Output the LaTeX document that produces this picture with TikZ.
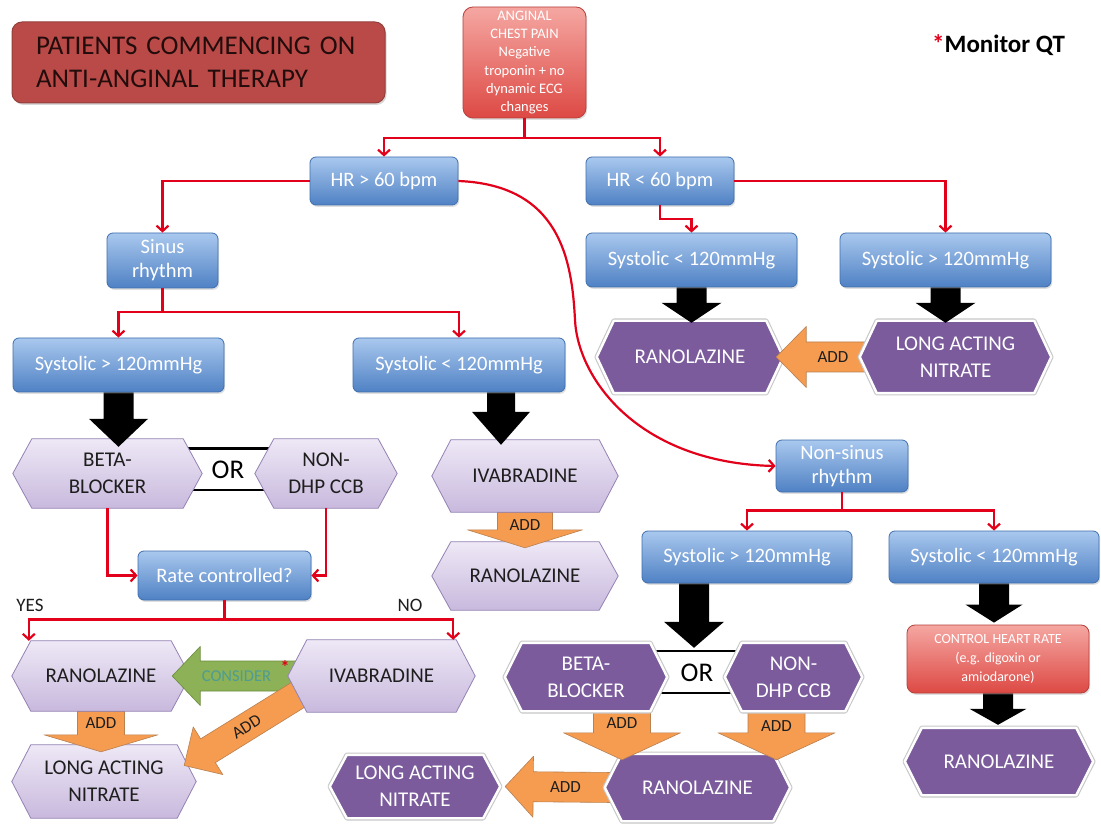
\documentclass[tikz,border=0pt]{standalone}
\usepackage{fontspec}
\setmainfont{Carlito}
\usetikzlibrary{calc,arrows.meta,shadows}
\pgfdeclarelayer{back}
\pgfsetlayers{back,main}

\definecolor{connred}{HTML}{E2001A}
\definecolor{blueT}{HTML}{A9C8EE}
\definecolor{blueB}{HTML}{4F81C4}
\definecolor{blueD}{HTML}{3F6FAE}
\definecolor{redT}{HTML}{F5A7A2}
\definecolor{redB}{HTML}{DD4944}
\definecolor{redD}{HTML}{B8403C}
\definecolor{titleFill}{HTML}{BA4A47}
\definecolor{titleDraw}{HTML}{93403D}
\definecolor{titleInk}{HTML}{220C0C}
\definecolor{lilacT}{HTML}{EEE8F6}
\definecolor{lilacB}{HTML}{C8B9DD}
\definecolor{lilacD}{HTML}{9482B4}
\definecolor{plum}{HTML}{7B5B9C}
\definecolor{orangeF}{HTML}{F59C50}
\definecolor{orangeD}{HTML}{B98050}
\definecolor{greenF}{HTML}{8CB156}
\definecolor{greenD}{HTML}{6B8C3E}
\definecolor{considerInk}{HTML}{4E9C93}
\definecolor{inkDark}{HTML}{1E1E1E}

\tikzset{
  bluebox/.style={rounded corners=6pt, top color=blueT, bottom color=blueB, draw=blueD,
    line width=0.8pt, text=white, align=center, inner sep=1pt,
    font=\fontsize{20.5}{24}\selectfont,
    drop shadow={opacity=0.25, shadow xshift=1.2pt, shadow yshift=-1.8pt}},
  redbox/.style={rounded corners=10pt, top color=redT, bottom color=redB, draw=redD,
    line width=0.8pt, text=white, align=center, inner sep=1pt,
    drop shadow={opacity=0.25, shadow xshift=1.2pt, shadow yshift=-1.8pt}},
  titlebox/.style={rounded corners=10pt, fill=titleFill, draw=titleDraw, line width=1pt,
    text=titleInk, align=left, inner xsep=24pt, inner ysep=2pt,
    font=\fontsize{27}{33}\selectfont,
    drop shadow={opacity=0.3, shadow xshift=1.5pt, shadow yshift=-2pt}},
  hexlabel/.style={align=center, inner sep=0pt, font=\fontsize{21}{27}\selectfont},
  lighthex/.style={hexlabel, text=inkDark},
  darkhex/.style={hexlabel, text=white},
  lightfill/.style={top color=lilacT, bottom color=lilacB, draw=lilacD, line width=0.8pt, line join=round},
  darkfill/.style={fill=plum, draw=white, line width=2.4pt, line join=round,
    preaction={draw=black!22, line width=4.6pt, line join=round}},
  conn/.style={draw=connred, line width=2.2pt, -{Straight Barb[length=5.5pt, width=12pt]}},
  orline/.style={draw=black, line width=2.2pt},
  blackarrow/.style={fill=black},
  orangearrow/.style={fill=orangeF, draw=orangeD, line width=0.6pt, line join=round},
  greenarrow/.style={fill=greenF, draw=greenD, line width=0.6pt, line join=round},
  addtext/.style={font=\fontsize{17}{17}\selectfont, text=inkDark, inner sep=0pt},
  considertext/.style={font=\fontsize{16.5}{16.5}\selectfont, text=considerInk, inner sep=0pt},
  ortext/.style={font=\fontsize{27}{27}\selectfont, text=black, inner sep=0pt},
  plaintext/.style={font=\fontsize{19}{19}\selectfont, text=inkDark, inner sep=0pt},
}

% hexagonal backdrop behind a named node: node, style, point depth
\newcommand\hexbg[3]{%
  \path[#2] (#1.west) -- ($(#1.north west)+(#3,0)$) -- ($(#1.north east)+(-#3,0)$) -- (#1.east)
    -- ($(#1.south east)+(-#3,0)$) -- ($(#1.south west)+(#3,0)$) -- cycle;}

% block arrow: style, tail, tip, shaft half width, head half width, head length
\newcommand\barrow[6]{%
  \path let \p1=(#2), \p2=(#3), \n1={veclen(\x2-\x1,\y2-\y1)} in
    coordinate (baq) at ($(\p1)!{\n1-#6pt}!(\p2)$);
  \path[#1] ($(#2)!#4pt!90:(#3)$) -- ($(baq)!#4pt!90:(#3)$) -- ($(baq)!#5pt!90:(#3)$) -- (#3)
    -- ($(baq)!#5pt!-90:(#3)$) -- ($(baq)!#4pt!-90:(#3)$) -- ($(#2)!#4pt!-90:(#3)$) -- cycle;}

\begin{document}
\begin{tikzpicture}[x=1pt, y=-1pt]
\useasboundingbox (0,0) rectangle (1101,826);

% ---------- title, start box, footnote ----------
\node[titlebox, text width=325pt, minimum height=81pt] (title) at (198.5,62.5)
  {PATIENTS COMMENCING ON\\ANTI-ANGINAL THERAPY};
\node[redbox, minimum width=123pt, minimum height=111pt, font=\fontsize{14.5}{18.3}\selectfont]
  (top) at (524.5,62.5) {ANGINAL\\CHEST PAIN\\Negative\\troponin + no\\dynamic ECG\\changes};
\node[font=\bfseries\fontsize{25}{25}\selectfont, inner sep=0pt, anchor=west] (qt) at (932,45)
  {\textcolor{connred}{*}Monitor QT};

% ---------- decision boxes ----------
\node[bluebox, minimum width=148pt, minimum height=48pt] (hr1) at (384,181) {HR > 60 bpm};
\node[bluebox, minimum width=148pt, minimum height=48pt] (hr2) at (660,181) {HR < 60 bpm};
\node[bluebox, minimum width=111pt, minimum height=55pt] (sinus) at (162.5,260.5) {Sinus\\rhythm};
\node[bluebox, minimum width=211pt, minimum height=54pt] (sysU1) at (691.5,260) {Systolic < 120mmHg};
\node[bluebox, minimum width=211pt, minimum height=54pt] (sysU2) at (945.5,260) {Systolic > 120mmHg};
\node[bluebox, minimum width=211pt, minimum height=54pt] (sysL1) at (118.5,365) {Systolic > 120mmHg};
\node[bluebox, minimum width=212pt, minimum height=54pt] (sysL2) at (459,365) {Systolic < 120mmHg};
\node[bluebox, minimum width=132pt, minimum height=52pt] (nonsinus) at (842,466) {Non-sinus\\rhythm};
\node[bluebox, minimum width=173pt, minimum height=49pt] (rate) at (224.5,575.5) {Rate controlled?};
\node[bluebox, minimum width=210pt, minimum height=52pt] (sysR1) at (747,557) {Systolic > 120mmHg};
\node[bluebox, minimum width=210pt, minimum height=52pt] (sysR2) at (994,557) {Systolic < 120mmHg};
\node[redbox, rounded corners=8pt, minimum width=182pt, minimum height=68pt,
  font=\fontsize{14}{19}\selectfont] (ctrl) at (998,659) {CONTROL HEART RATE\\(e.g. digoxin or\\amiodarone)};

% ---------- drug labels (hexagons drawn on the back layer) ----------
\node[lighthex, minimum width=189pt, minimum height=69pt] (beta) at (107.5,473.5) {BETA-\\BLOCKER};
\node[lighthex, minimum width=142pt, minimum height=69pt] (nondhp) at (326,473.5) {NON-\\DHP CCB};
\node[lighthex, minimum width=186pt, minimum height=72pt] (ivaM) at (525,476) {IVABRADINE};
\node[lighthex, minimum width=186pt, minimum height=68pt] (ranoM) at (525,576) {RANOLAZINE};
\node[lighthex, minimum width=178pt, minimum height=70pt] (ranoL) at (101,676) {RANOLAZINE};
\node[lighthex, minimum width=187pt, minimum height=72pt] (ivaL) at (381.5,676) {IVABRADINE};
\node[lighthex, minimum width=184pt, minimum height=73pt] (nitrL) at (104,781.5) {LONG ACTING\\NITRATE};
\node[darkhex, minimum width=186pt, minimum height=72pt] (ranoU) at (690,357) {RANOLAZINE};
\node[darkhex, minimum width=191pt, minimum height=72pt] (nitrU) at (955.5,357) {LONG ACTING\\NITRATE};
\node[darkhex, minimum width=162pt, minimum height=68pt] (betaR) at (586,677) {BETA-\\BLOCKER};
\node[darkhex, minimum width=137pt, minimum height=68pt] (nondhpR) at (793.5,677) {NON-\\DHP CCB};
\node[darkhex, minimum width=185pt, minimum height=67pt] (ranoR2) at (697.5,787.5) {RANOLAZINE};
\node[darkhex, minimum width=170pt, minimum height=63pt] (nitrR) at (415,786.5) {LONG ACTING\\NITRATE};
\node[darkhex, minimum width=188pt, minimum height=67pt] (ranoRR) at (999,761.5) {RANOLAZINE};

\node[ortext] (orL) at (228,470) {OR};
\node[ortext] (orR) at (697,673) {OR};
\node[plaintext] (yes) at (30,605) {YES};
\node[plaintext] (no) at (410,605) {NO};

% ---------- red decision connectors ----------
\coordinate (yesend) at ($(ranoL.north west)+(17,0)$);
\coordinate (noend) at ($(ivaL.north east)+(-22,0)$);
\draw[conn] (top.south) -- ++(0,20) -| (hr1.north);
\draw[conn] (top.south) -- ++(0,20) -| (hr2.north);
\draw[conn] (hr1.west) -| (sinus.north);
\draw[conn] (hr2.south) -- ++(0,14) -| (sysU1.north);
\draw[conn] (hr2.east) -| (sysU2.north);
\draw[conn] (hr1.east) .. controls (560,185) and (572,260) .. (575,320)
  .. controls (578,380) and (640,463) .. (nonsinus.west);
\draw[conn] (sinus.south) -- ++(0,24) -| (sysL1.north);
\draw[conn] (sinus.south) -- ++(0,24) -| (sysL2.north);
\draw[conn] (nonsinus.south) -- ++(0,18) -| (sysR1.north);
\draw[conn] (nonsinus.south) -- ++(0,18) -| (sysR2.north);
\draw[conn] (beta.south) |- (rate.west);
\draw[conn] (nondhp.south) |- (rate.east);
\draw[conn] (rate.south) -- ++(0,19) -| (yesend);
\draw[conn] (rate.south) -- ++(0,19) -| (noend);

% ---------- block arrow end points ----------
\coordinate (kU1a) at (sysU1.south);  \coordinate (kU1b) at ($(sysU1.south |- ranoU.north)+(0,2)$);
\coordinate (kU2a) at (sysU2.south);  \coordinate (kU2b) at ($(sysU2.south |- nitrU.north)+(0,2)$);
\coordinate (kL1a) at (sysL1.south);  \coordinate (kL1b) at ($(sysL1.south |- beta.north)+(0,8)$);
\coordinate (kL2a) at ($(sysL2.south)+(42,0)$);  \coordinate (kL2b) at ($(kL2a |- ivaM.north)+(0,5)$);
\coordinate (kR1a) at ($(sysR1.south)+(-53,0)$); \coordinate (kR1b) at ($(kR1a |- betaR.north)+(0,5)$);
\coordinate (kR2a) at (sysR2.south);  \coordinate (kR2b) at ($(sysR2.south |- ctrl.north)+(0,-2)$);
\coordinate (kR3a) at (ctrl.south);   \coordinate (kR3b) at ($(ctrl.south |- ranoRR.north)+(0,-3)$);
\coordinate (oUa) at ($(nitrU.west)+(8,0)$);   \coordinate (oUb) at ($(ranoU.east)+(-7,0)$);
\coordinate (oMa) at (ivaM.south);             \coordinate (oMb) at ($(ranoM.north)+(0,6)$);
\coordinate (oLa) at (ranoL.south);            \coordinate (oLb) at ($(ranoL.south |- nitrL.north)+(0,7)$);
\coordinate (oDa) at ($(ivaL.south west)+(21,-24)$); \coordinate (oDb) at ($(nitrL.east)+(-12,-16)$);
\coordinate (oR1a) at ($(betaR.south)+(36,0)$);    \coordinate (oR1b) at ($(oR1a |- ranoR2.north)+(0,6)$);
\coordinate (oR2a) at ($(nondhpR.south)+(-17,0)$); \coordinate (oR2b) at ($(oR2a |- ranoR2.north)+(0,6)$);
\coordinate (oBa) at ($(ranoR2.west)+(8,0)$);  \coordinate (oBb) at ($(nitrR.east)+(5,0)$);
\coordinate (gCa) at ($(ivaL.west)+(8,0)$);    \coordinate (gCb) at ($(ranoL.east)+(-18,0)$);

% ---------- shapes behind the labels ----------
\begin{pgfonlayer}{back}
  \fill[white] (0,0) rectangle (1101,826);
  % OR pair (sinus rhythm)
  \draw[orline] ($(beta.east)+(-30,-25)$) -- ($(nondhp.west)+(30,-25)$);
  \draw[orline] ($(beta.east)+(-30,16.5)$) -- ($(nondhp.west)+(30,16.5)$);
  \hexbg{beta}{lightfill}{19}
  \hexbg{nondhp}{lightfill}{19}
  % ivabradine then ranolazine
  \hexbg{ranoM}{lightfill}{19}
  \barrow{orangearrow}{oMa}{oMb}{27.5}{57.5}{18}
  \hexbg{ivaM}{lightfill}{19}
  % bradycardic branch
  \hexbg{ranoU}{darkfill}{17}
  \barrow{orangearrow}{oUa}{oUb}{15}{30.5}{30}
  \hexbg{nitrU}{darkfill}{17}
  % rate controlled outcomes
  \hexbg{nitrL}{lightfill}{19}
  \barrow{orangearrow}{oLa}{oLb}{23.5}{57}{17}
  \hexbg{ranoL}{lightfill}{19}
  \barrow{greenarrow}{gCa}{gCb}{15}{29.5}{28}
  \barrow{orangearrow}{oDa}{oDb}{14}{28}{28}
  \hexbg{ivaL}{lightfill}{19}
  % non-sinus, normotensive
  \hexbg{nitrR}{darkfill}{17}
  \barrow{orangearrow}{oBa}{oBb}{15}{30.5}{28}
  \hexbg{ranoR2}{darkfill}{17}
  \barrow{orangearrow}{oR1a}{oR1b}{28.5}{58.5}{27}
  \barrow{orangearrow}{oR2a}{oR2b}{28.5}{58.5}{27}
  \draw[orline] ($(betaR.east)+(-30,-26)$) -- ($(nondhpR.west)+(30,-26)$);
  \draw[orline] ($(betaR.east)+(-30,16)$) -- ($(nondhpR.west)+(30,16)$);
  \hexbg{betaR}{darkfill}{17}
  \hexbg{nondhpR}{darkfill}{17}
  % non-sinus, hypotensive
  \hexbg{ranoRR}{darkfill}{17}
  % black "leads to" arrows
  \barrow{blackarrow}{kU1a}{kU1b}{15}{30}{20}
  \barrow{blackarrow}{kU2a}{kU2b}{15}{30}{20}
  \barrow{blackarrow}{kL1a}{kL1b}{15}{29.5}{28}
  \barrow{blackarrow}{kL2a}{kL2b}{14}{29}{33}
  \barrow{blackarrow}{kR1a}{kR1b}{15}{30}{26}
  \barrow{blackarrow}{kR2a}{kR2b}{15}{28.5}{18}
  \barrow{blackarrow}{kR3a}{kR3b}{15}{28.5}{16}
\end{pgfonlayer}

% ---------- arrow captions ----------
\node[addtext] (addU) at ($(oUa)!0.38!(oUb)$) {ADD};
\node[addtext] (addM) at ($(oMa)!0.36!(oMb)$) {ADD};
\node[addtext] (addL) at ($(oLa)!0.3!(oLb)$) {ADD};
\path (oDa) -- (oDb) node[addtext, pos=0.5, sloped] (addD) {ADD};
\node[addtext] (addR1) at ($(oR1a)!0.25!(oR1b)$) {ADD};
\node[addtext] (addR2) at ($(oR2a)!0.3!(oR2b)$) {ADD};
\node[addtext] (addB) at ($(oBa)!0.44!(oBb)$) {ADD};
\node[considertext] (consider) at ($(gCa)!0.48!(gCb)$) {CONSIDER};
\node[text=connred, font=\bfseries\fontsize{18}{18}\selectfont, inner sep=0pt] (cstar) at (285,667) {*};
\end{tikzpicture}
\end{document}
